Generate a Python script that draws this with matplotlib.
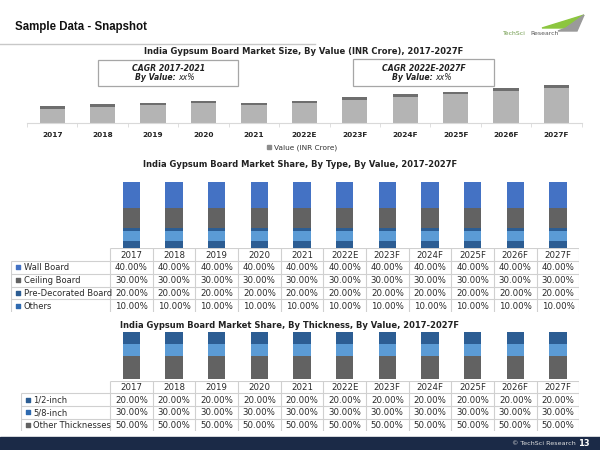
import matplotlib.pyplot as plt
from matplotlib.patches import Rectangle, Polygon
from matplotlib.lines import Line2D

W, H = 600, 450

years = ["2017", "2018", "2019", "2020", "2021", "2022E",
         "2023F", "2024F", "2025F", "2026F", "2027F"]

# market size, relative units
market_value = [17.3, 19.0, 20.7, 22.7, 20.7, 22.7, 26.0, 29.0, 31.7, 35.0, 38.0]

type_labels = ["Wall Board", "Ceiling Board", "Pre-Decorated Board", "Others"]
wall_board = [40.0, 40.0, 40.0, 40.0, 40.0, 40.0, 40.0, 40.0, 40.0, 40.0, 40.0]
ceiling_board = [30.0, 30.0, 30.0, 30.0, 30.0, 30.0, 30.0, 30.0, 30.0, 30.0, 30.0]
pre_decorated = [20.0, 20.0, 20.0, 20.0, 20.0, 20.0, 20.0, 20.0, 20.0, 20.0, 20.0]
others = [10.0, 10.0, 10.0, 10.0, 10.0, 10.0, 10.0, 10.0, 10.0, 10.0, 10.0]

thick_labels = ["1/2-inch", "5/8-inch", "Other Thicknesses"]
half_inch = [20.0, 20.0, 20.0, 20.0, 20.0, 20.0, 20.0, 20.0, 20.0, 20.0, 20.0]
five_eighth = [30.0, 30.0, 30.0, 30.0, 30.0, 30.0, 30.0, 30.0, 30.0, 30.0, 30.0]
other_thick = [50.0, 50.0, 50.0, 50.0, 50.0, 50.0, 50.0, 50.0, 50.0, 50.0, 50.0]

BLUE = "#4472c4"
GRAY = "#626262"
LIGHT = "#5b9bd5"
NAVY = "#2c5d93"
NAVY2 = "#2e6ab0"
GRID = "#d0d0d0"
TXT = "#2a2a2a"


def rect(x0, y0, x1, y1):
    # pixel box (top-left origin) -> figure fraction
    return [x0 / W, 1 - y1 / H, (x1 - x0) / W, (y1 - y0) / H]


def fx(x):
    return x / W


def fy(y):
    return 1 - y / H


fig = plt.figure(figsize=(6, 4.5), dpi=100)

# header
fig.text(fx(15), fy(27), "Sample Data - Snapshot", fontsize=8.3, fontweight="bold",
         family="Liberation Sans", va="center", ha="left", color="#111111")
fig.add_artist(Line2D([0, fx(315)], [fy(44), fy(44)], color="#c8c8c8", lw=1))

# logo
fig.add_artist(Polygon([(fx(542), fy(28)), (fx(584), fy(15)), (fx(566), fy(28))],
                       closed=True, color="#8cc63f", transform=fig.transFigure))
fig.add_artist(Polygon([(fx(558), fy(31)), (fx(566), fy(28)), (fx(584), fy(15)), (fx(577), fy(31))],
                       closed=True, color="#9a9a9a", transform=fig.transFigure))
fig.text(fx(503), fy(33.5), "TechSci", fontsize=4.4, color="#6f9a4a", va="center", ha="left")
fig.text(fx(530), fy(33.5), "Research", fontsize=4.4, color="#555555", va="center", ha="left")

x = list(range(len(years)))

# ---------- chart 1: market size ----------
fig.text(fx(304), fy(51.5), "India Gypsum Board Market Size, By Value (INR Crore), 2017-2027F",
         fontsize=6, fontweight="bold", ha="center", va="center", color="#222222")

ax1 = fig.add_axes(rect(27, 78.3, 581.7, 123.3))
cap = [2.6] * len(years)
ax1.bar(x, market_value, width=0.5, color="#b4b4b4", zorder=2)
ax1.bar(x, cap, bottom=[v - c for v, c in zip(market_value, cap)], width=0.5,
        color="#6e6e6e", zorder=3)
ax1.set_xlim(-0.5, len(years) - 0.5)
ax1.set_ylim(0, 45)
for s in ["top", "right", "left"]:
    ax1.spines[s].set_visible(False)
ax1.spines["bottom"].set_color("#d9d9d9")
ax1.set_yticks([])
ax1.set_xticks(x)
ax1.set_xticklabels(years, fontsize=5.3, fontweight="bold", color="#222222")
ax1.tick_params(axis="x", length=0, pad=6)
ax1.set_xticks([i - 0.5 for i in range(len(years) + 1)], minor=True)
ax1.tick_params(axis="x", which="minor", length=3, color="#d9d9d9")
ax1.patch.set_alpha(0)

fig.legend(handles=[Rectangle((0, 0), 1, 1, color="#8c8c8c")], labels=["Value (INR Crore)"],
           loc="center", bbox_to_anchor=(fx(302), fy(147.7)), frameon=False, fontsize=5.3,
           handlelength=0.6, handleheight=0.6, handletextpad=0.3, labelcolor="#333333")

# CAGR boxes
for (x0, y0, x1, y1), head, cx, split in [((98, 59.5, 238, 86), "CAGR 2017-2021", 168.3, 178.5),
                                         ((353, 59.5, 494, 85.5), "CAGR 2022E-2027F", 423.5, 435)]:
    fig.add_artist(Rectangle((fx(x0), fy(y1)), fx(x1 - x0), (y1 - y0) / H, fill=False,
                             edgecolor="#a6a6a6", lw=0.9, transform=fig.transFigure))
    fig.text(fx(cx), fy(68.7), head, fontsize=5.6, fontweight="bold", style="italic",
             ha="center", va="center", color="#222222")
    fig.text(fx(split), fy(77.7), "By Value: ", fontsize=5.6, fontweight="bold", style="italic",
             ha="right", va="center", color="#222222")
    fig.text(fx(split), fy(77.7), "xx%", fontsize=5.6, style="italic",
             ha="left", va="center", color="#222222")


def draw_table(left, top, rows_labels, rows_vals, colors, row_h=12.85):
    col_left, col_right = 110.0, 579.3
    cw = (col_right - col_left) / len(years)
    lab_w = (col_left - left) / cw
    n = len(rows_labels) + 1
    tax = fig.add_axes(rect(left, top, col_right, top + n * row_h))
    tax.set_xlim(-0.5 - lab_w, len(years) - 0.5)
    tax.set_ylim(n, 0)
    tax.axis("off")
    xl = -0.5 - lab_w
    tax.hlines(0, -0.5, len(years) - 0.5, color=GRID, lw=0.8)
    tax.hlines(range(1, n), xl, len(years) - 0.5, color=GRID, lw=0.8)
    tax.vlines(xl, 1, n, color=GRID, lw=0.8)
    tax.vlines([i - 0.5 for i in range(len(years) + 1)], 0, n, color=GRID, lw=0.8)
    for i, yr in enumerate(years):
        tax.text(i, 0.55, yr, fontsize=6.2, ha="center", va="center", color=TXT)
    for r, (lab, vals, c) in enumerate(zip(rows_labels, rows_vals, colors)):
        yy = r + 1.55
        tax.scatter([xl + 0.16], [yy - 0.05], marker="s", s=9, color=c, zorder=3)
        tax.text(xl + 0.3, yy, lab, fontsize=6.0, ha="left", va="center", color=TXT)
        for i, v in enumerate(vals):
            tax.text(i, yy, f"{v:.2f}%", fontsize=6.2, ha="center", va="center", color=TXT)


def bar_axes(top, bottom):
    ax = fig.add_axes(rect(110, top, 579.3, bottom))
    ax.set_xlim(-0.5, len(years) - 0.5)
    ax.set_ylim(0, 100)
    ax.axis("off")
    return ax


# ---------- chart 2: by type ----------
fig.text(fx(300), fy(164.3), "India Gypsum Board Market Share, By Type, By Value, 2017-2027F",
         fontsize=6, fontweight="bold", ha="center", va="center", color="#222222")
ax2 = bar_axes(181.7, 247.7)
bw = 0.41
b = [0.0] * len(years)
ax2.bar(x, others, bottom=b, width=bw, color=NAVY)
b = [p + q for p, q in zip(b, others)]
ax2.bar(x, pre_decorated, bottom=b, width=bw, color=LIGHT)
ax2.bar(x, [4.0] * len(years), bottom=[p + q - 4.0 for p, q in zip(b, pre_decorated)],
        width=bw, color=NAVY)
b = [p + q for p, q in zip(b, pre_decorated)]
ax2.bar(x, ceiling_board, bottom=b, width=bw, color=GRAY)
b = [p + q for p, q in zip(b, ceiling_board)]
ax2.bar(x, wall_board, bottom=b, width=bw, color=BLUE)

draw_table(11, 248, type_labels, [wall_board, ceiling_board, pre_decorated, others],
           [BLUE, GRAY, NAVY, NAVY2])

# ---------- chart 3: by thickness ----------
fig.text(fx(290), fy(325), "India Gypsum Board Market Share, By Thickness, By Value, 2017-2027F",
         fontsize=6, fontweight="bold", ha="center", va="center", color="#222222")
ax3 = bar_axes(332.3, 379.3)
b = [0.0] * len(years)
ax3.bar(x, other_thick, bottom=b, width=bw, color=GRAY)
b = [p + q for p, q in zip(b, other_thick)]
ax3.bar(x, five_eighth, bottom=b, width=bw, color=LIGHT)
ax3.bar(x, [5.0] * len(years), bottom=[p + q - 5.0 for p, q in zip(b, five_eighth)],
        width=bw, color=NAVY)
b = [p + q for p, q in zip(b, five_eighth)]
ax3.bar(x, half_inch, bottom=b, width=bw, color=NAVY)

draw_table(20.7, 380.7, thick_labels, [half_inch, five_eighth, other_thick],
           [NAVY, NAVY2, GRAY], row_h=12.6)

# footer
fig.add_artist(Rectangle((0, 0), 1, 13 / H, color="#1b2a47", transform=fig.transFigure))
fig.text(fx(512), fy(443.5), "© TechSci Research", fontsize=4.6, color="#e0e0e0",
         ha="left", va="center")
fig.text(fx(584), fy(443.5), "13", fontsize=6, fontweight="bold", color="white",
         ha="center", va="center")

fig.savefig("out.png", dpi=100)
